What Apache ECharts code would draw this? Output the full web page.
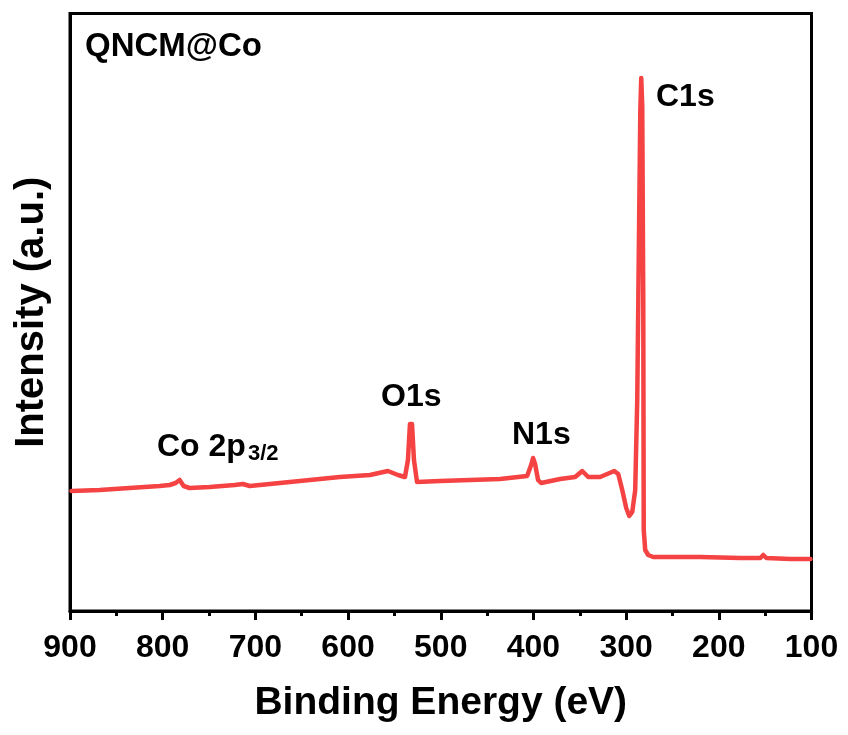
<!DOCTYPE html>
<html>
<head>
<meta charset="utf-8">
<script src="https://cdn.jsdelivr.net/npm/echarts@6/dist/echarts.min.js"></script>
<style>html,body{margin:0;padding:0;background:#fff}#c{width:848px;height:735px}</style>
</head>
<body>
<div id="c"></div>
<script>
// Binding energy (eV)
const energy = [898.4, 868, 835.7, 803.3, 792.5, 786, 781.7, 777.4, 771, 749.3, 722.3, 713.6, 706, 673.6, 641.2, 608.8, 576.4, 557, 546.2, 538.6, 535.4, 533.2, 531, 528.9, 525.6, 500.8, 468.4, 436, 406.8, 402.5, 400.4, 398.2, 395, 391.7, 371.2, 355, 347.4, 340.9, 328, 312.8, 308.5, 304.2, 299.9, 296.6, 293.4, 290.2, 288, 286.3, 284.7, 283.7, 282.6, 281.5, 281, 279.4, 276.2, 270.8, 220, 176.8, 155.2, 152, 148.7, 122.8, 101.1];
// Intensity (a.u.)
const intensity = [120, 121, 123, 125, 126, 128, 131, 125, 123, 124, 126, 127, 125, 128, 131, 134, 136, 140, 136, 134, 151, 187, 187, 151, 129, 130, 131, 132, 135, 146, 153, 147, 131, 128, 132, 134, 140, 134, 134, 140, 137, 121, 103, 95, 99, 121, 211, 361, 500, 533, 505, 311, 81, 61, 56, 54, 54, 53, 53, 56, 53, 52, 52];
const xTicks = [900, 800, 700, 600, 500, 400, 300, 200, 100];
const sampleName = 'QNCM@Co';
const peakLabels = ['C1s', 'O1s', 'N1s'];

const FONT = '"Liberation Sans", Arial, sans-serif';
const data = energy.map((e, i) => [e, intensity[i]]);

const chart = echarts.init(document.getElementById('c'), null, {renderer: 'canvas'});
chart.setOption({
  animation: false,
  backgroundColor: '#fff',
  grid: {left: 70, right: 36.5, top: 13.5, bottom: 124, show: true, borderColor: '#000', borderWidth: 3, backgroundColor: 'transparent'},
  xAxis: {
    type: 'value', inverse: true, min: 100, max: 900, interval: 100,
    name: 'Binding Energy (eV)', nameLocation: 'middle', nameGap: 73,
    nameTextStyle: {fontFamily: FONT, fontWeight: 'bold', fontSize: 39, color: '#000'},
    axisLine: {lineStyle: {color: '#000', width: 3}},
    axisTick: {show: true, inside: false, length: 9, lineStyle: {color: '#000', width: 3}},
    minorTick: {show: true, splitNumber: 2, length: 5, lineStyle: {color: '#000', width: 3}},
    axisLabel: {fontFamily: FONT, fontWeight: 'bold', fontSize: 32, color: '#000', margin: 21, showMinLabel: true, showMaxLabel: true,
      formatter: v => xTicks.includes(v) ? String(v) : ''},
    splitLine: {show: false}
  },
  yAxis: {
    type: 'value', min: 0, max: 597.5,
    name: 'Intensity (a.u.)', nameLocation: 'middle', nameGap: 18, nameRotate: 90,
    nameTextStyle: {fontFamily: FONT, fontWeight: 'bold', fontSize: 40, color: '#000'},
    axisLine: {show: true, lineStyle: {color: '#000', width: 3}},
    axisTick: {show: false}, axisLabel: {show: false}, splitLine: {show: false}
  },
  series: [{
    type: 'line', data: data, showSymbol: false, smooth: false,
    lineStyle: {color: '#f54242', width: 4.5, join: 'round', cap: 'round'}
  }],
  graphic: [
    {type: 'text', x: 85, y: 47, style: {text: sampleName, font: 'bold 33px ' + FONT, fill: '#000', verticalAlign: 'middle'}},
    {type: 'text', x: 656, y: 97, style: {text: peakLabels[0], font: 'bold 32px ' + FONT, fill: '#000', verticalAlign: 'middle'}},
    {type: 'text', x: 381, y: 397, style: {text: peakLabels[1], font: 'bold 32px ' + FONT, fill: '#000', verticalAlign: 'middle'}},
    {type: 'text', x: 512, y: 435, style: {text: peakLabels[2], font: 'bold 32px ' + FONT, fill: '#000', verticalAlign: 'middle'}},
    {type: 'text', x: 157, y: 447, style: {
      text: '{a|Co 2p}{b|3/2}', verticalAlign: 'middle',
      rich: {
        a: {fontFamily: FONT, fontWeight: 'bold', fontSize: 32, color: '#000'},
        b: {fontFamily: FONT, fontWeight: 'bold', fontSize: 22, color: '#000', verticalAlign: 'bottom', padding: [14, 0, 0, 2]}
      }
    }}
  ]
});
</script>
</body>
</html>
